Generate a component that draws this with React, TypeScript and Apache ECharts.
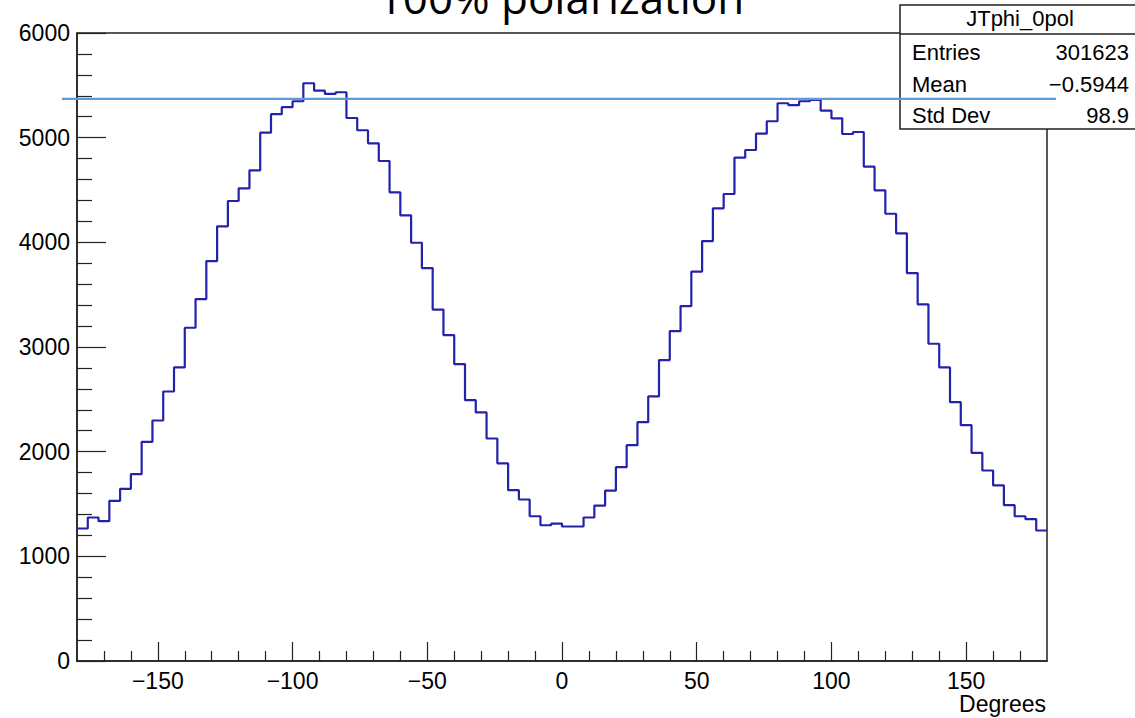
import React, { useEffect, useRef } from "react";
import * as echarts from "echarts";

// ---- data ----
const xMin = -180;
const xMax = 180;
const binWidth = 4;
const counts = [
  1266, 1371, 1336, 1530, 1645, 1785, 2094, 2298, 2575, 2805,
  3184, 3458, 3821, 4153, 4395, 4516, 4688, 5048, 5224, 5291,
  5348, 5520, 5449, 5418, 5434, 5188, 5071, 4946, 4777, 4478,
  4258, 3996, 3754, 3358, 3114, 2837, 2492, 2375, 2126, 1889,
  1632, 1543, 1383, 1297, 1313, 1285, 1285, 1371, 1485, 1628,
  1852, 2062, 2282, 2528, 2875, 3152, 3391, 3721, 4012, 4325,
  4462, 4809, 4882, 5038, 5157, 5329, 5310, 5348, 5360, 5258,
  5185, 5035, 5054, 4723, 4497, 4273, 4086, 3706, 3408, 3031,
  2805, 2473, 2253, 1989, 1820, 1677, 1489, 1383, 1355, 1247,
];
const xTickLabels = [-150, -100, -50, 0, 50, 100, 150];
const xMinorTicks = [
  -170, -160, -140, -130, -120, -110, -90, -80, -70, -60, -40, -30, -20, -10,
  10, 20, 30, 40, 60, 70, 80, 90, 110, 120, 130, 140, 160, 170,
];
const yTickLabels = [0, 1000, 2000, 3000, 4000, 5000, 6000];
const fitLevel = 5370;
const fitXRange = [-185.6, 183.3];
const titleText = "100% polarization";
const xAxisTitle = "Degrees";
const statsTitle = "JTphi_0pol";
const statsLabels = ["Entries", "Mean", "Std Dev"];
const statsValues = ["301623", "\u22120.5944", "98.9"];

const FONT = "'Liberation Sans', Arial, Helvetica, sans-serif";
const AXIS_COLOR = "#222";

export default function App() {
  const ref = useRef<HTMLDivElement>(null);

  useEffect(() => {
    if (!ref.current) return;
    const chart = echarts.init(ref.current, undefined, { renderer: "svg" });

    const histData: [number, number][] = counts.map((c, i) => [xMin + i * binWidth, c]);
    histData.push([xMax, counts[counts.length - 1]]);

    const statsRowY = [52.5, 84, 115];

    const option: any = {
      animation: false,
      backgroundColor: "#fff",
      grid: {
        left: 77,
        right: 88,
        top: 33,
        bottom: 57,
        show: true,
        borderColor: AXIS_COLOR,
        borderWidth: 1.5,
        backgroundColor: "transparent",
      },
      xAxis: [
        {
          type: "value",
          min: xMin,
          max: xMax,
          position: "bottom",
          axisLine: { show: true, onZero: false, lineStyle: { color: AXIS_COLOR, width: 1.5 } },
          axisTick: {
            show: true,
            inside: true,
            length: 19,
            customValues: xTickLabels,
            lineStyle: { color: AXIS_COLOR, width: 1.2 },
          },
          axisLabel: {
            show: true,
            customValues: xTickLabels,
            margin: 8,
            fontSize: 23,
            fontFamily: FONT,
            color: "#000",
            formatter: (v: number) => String(v).replace("-", "\u2212"),
          },
          splitLine: { show: false },
        },
        {
          type: "value",
          min: xMin,
          max: xMax,
          position: "bottom",
          axisLine: { show: false, onZero: false },
          axisTick: {
            show: true,
            inside: true,
            length: 10,
            customValues: xMinorTicks,
            lineStyle: { color: AXIS_COLOR, width: 1.2 },
          },
          axisLabel: { show: false },
          splitLine: { show: false },
        },
      ],
      yAxis: {
        type: "value",
        min: yTickLabels[0],
        max: yTickLabels[yTickLabels.length - 1],
        interval: 1000,
        axisLine: { show: true, onZero: false, lineStyle: { color: AXIS_COLOR, width: 1.5 } },
        axisTick: { show: true, inside: true, length: 29, lineStyle: { color: AXIS_COLOR, width: 1.2 } },
        minorTick: { show: true, splitNumber: 5, length: 15, lineStyle: { color: AXIS_COLOR, width: 1.2 } },
        axisLabel: {
          margin: 7,
          fontSize: 23,
          fontFamily: FONT,
          color: "#000",
          formatter: (v: number) => String(v),
        },
        splitLine: { show: false },
        minorSplitLine: { show: false },
      },
      series: [
        {
          type: "line",
          xAxisIndex: 0,
          data: histData,
          step: "end",
          symbol: "none",
          lineStyle: { color: "#2222aa", width: 2.2 },
          z: 5,
        },
      ],
      graphic: [
        {
          id: "title",
          type: "text",
          x: 561,
          y: -3,
          z: 1,
          style: {
            text: titleText,
            fontSize: 44,
            fontFamily: "'Open Sans', sans-serif",
            fill: "#000",
            align: "center",
            verticalAlign: "middle",
          },
        },
        {
          id: "statsBox",
          type: "rect",
          z: 1,
          shape: { x: 900, y: 5, width: 240, height: 124 },
          style: { fill: "#fff", stroke: AXIS_COLOR, lineWidth: 1.5 },
        },
        {
          id: "statsSep",
          type: "line",
          z: 2,
          shape: { x1: 900, y1: 34, x2: 1140, y2: 34 },
          style: { stroke: AXIS_COLOR, lineWidth: 1.5 },
        },
        {
          id: "statsTitle",
          type: "text",
          x: 1020,
          y: 18.5,
          z: 3,
          style: {
            text: statsTitle,
            fontSize: 22,
            fontFamily: FONT,
            fill: "#000",
            align: "center",
            verticalAlign: "middle",
          },
        },
        ...statsLabels.map((lab, i) => ({
          id: "statsLab" + i,
          type: "text",
          x: 912,
          y: statsRowY[i],
          z: 3,
          style: {
            text: lab,
            fontSize: 22,
            fontFamily: FONT,
            fill: "#000",
            align: "left",
            verticalAlign: "middle",
          },
        })),
        ...statsValues.map((val, i) => ({
          id: "statsVal" + i,
          type: "text",
          x: 1129,
          y: statsRowY[i],
          z: 3,
          style: {
            text: val,
            fontSize: 22,
            fontFamily: FONT,
            fill: "#000",
            align: "right",
            verticalAlign: "middle",
          },
        })),
        {
          id: "xname",
          type: "text",
          x: 1046,
          y: 704,
          z: 3,
          style: {
            text: xAxisTitle,
            fontSize: 23,
            fontFamily: FONT,
            fill: "#000",
            align: "right",
            verticalAlign: "middle",
          },
        },
      ],
    };

    chart.setOption(option);

    // fit line: positioned through the chart's own axis scales
    const p1 = chart.convertToPixel({ xAxisIndex: 0, yAxisIndex: 0 }, [fitXRange[0], fitLevel]) as number[];
    const p2 = chart.convertToPixel({ xAxisIndex: 0, yAxisIndex: 0 }, [fitXRange[1], fitLevel]) as number[];
    chart.setOption({
      graphic: [
        {
          id: "fitLine",
          type: "line",
          z: 20,
          shape: { x1: p1[0], y1: p1[1], x2: p2[0], y2: p2[1] },
          style: { stroke: "#5a9bd8", lineWidth: 2.2 },
        },
      ],
    });

    return () => chart.dispose();
  }, []);

  return (
    <div
      ref={ref}
      style={{ position: "fixed", left: 0, top: 0, width: 1135, height: 718, background: "#fff" }}
    />
  );
}
